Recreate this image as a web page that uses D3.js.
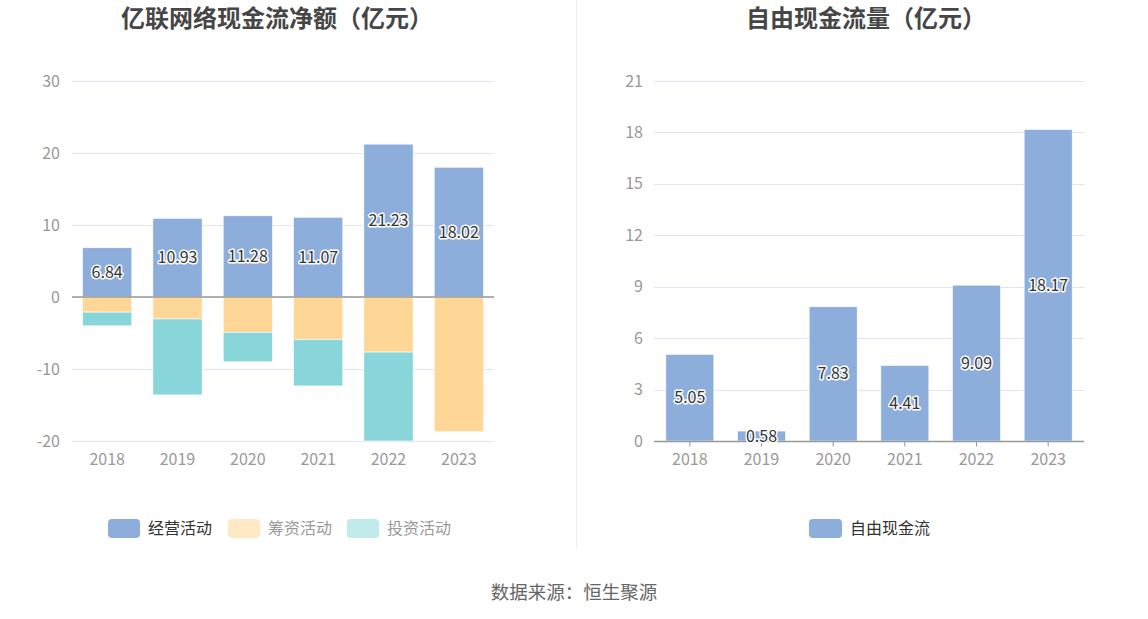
<!DOCTYPE html>
<html><head><meta charset="utf-8">
<script src="https://cdn.jsdelivr.net/npm/d3@7/dist/d3.min.js"></script>
<style>
html,body{margin:0;padding:0;background:#fff;}
svg{display:block;font-family:"Noto Sans CJK SC","Noto Sans",sans-serif;}
</style></head><body>
<svg id="c" width="1148" height="619"></svg>
<script>
const years = ["2018","2019","2020","2021","2022","2023"];
const operating = [6.84, 10.93, 11.28, 11.07, 21.23, 18.02];
const financing = [-2.1, -3.05, -4.9, -5.9, -7.65, -18.7];
const investing = [-1.9, -10.55, -4.1, -6.45, -12.35, 0];
const freeCash = [5.05, 0.58, 7.83, 4.41, 9.09, 18.17];
const leftTicks = [-20, -10, 0, 10, 20, 30];
const rightTicks = [0, 3, 6, 9, 12, 15, 18, 21];
const leftSeries = ["经营活动", "筹资活动", "投资活动"];
const rightSeries = ["自由现金流"];

const C = {blue:"#8DAEDB", orange:"#FED797", teal:"#88D6D9"};
const svg = d3.select("#c");

// titles
svg.append("text").attr("x",277).attr("y",27).attr("text-anchor","middle")
  .attr("font-size",24).attr("font-weight","bold").attr("fill","#464646").text("亿联网络现金流净额（亿元）");
svg.append("text").attr("x",866).attr("y",27).attr("text-anchor","middle")
  .attr("font-size",24).attr("font-weight","bold").attr("fill","#464646").text("自由现金流量（亿元）");
// divider
svg.append("line").attr("x1",576.5).attr("x2",576.5).attr("y1",0).attr("y2",549).attr("stroke","#EEEEEE");
// footer
svg.append("text").attr("x",574).attr("y",599).attr("text-anchor","middle")
  .attr("font-size",18.5).attr("fill","#666").text("数据来源：恒生聚源");

function gridAndY(g, y, ticks, x0, x1, labelX){
  ticks.forEach(t=>{
    g.append("line").attr("x1",x0).attr("x2",x1).attr("y1",Math.round(y(t))+0.5).attr("y2",Math.round(y(t))+0.5)
      .attr("stroke","#E0E6F1").attr("stroke-width",1);
    g.append("text").attr("x",labelX).attr("y",y(t)).attr("dy","0.35em").attr("text-anchor","end")
      .attr("font-size",16).attr("fill","#999").text(t);
  });
}
function label(g, x, y, txt){
  g.append("text").attr("x",x).attr("y",y).attr("dy","0.35em").attr("text-anchor","middle")
    .attr("font-size",16).attr("fill","#333").attr("stroke","#fff").attr("stroke-width",3)
    .attr("paint-order","stroke").attr("stroke-linejoin","round").text(txt);
}

// LEFT chart
{
  const g = svg.append("g");
  const x = d3.scaleBand().domain(years).range([72,494]).paddingInner(0.3).paddingOuter(0.15);
  const y = d3.scaleLinear().domain([-20,30]).range([441,81]);
  gridAndY(g, y, leftTicks, 72, 494, 60);
  years.forEach((yr,i)=>{
    const bx = x(yr), bw = x.bandwidth();
    g.append("rect").attr("x",bx).attr("width",bw).attr("y",y(operating[i])).attr("height",y(0)-y(operating[i]))
      .attr("fill",C.blue).attr("stroke","#fff").attr("stroke-width",0.6);
    let base = 0;
    g.append("rect").attr("x",bx).attr("width",bw).attr("y",y(base)).attr("height",y(base+financing[i])-y(base))
      .attr("fill",C.orange).attr("stroke","#fff").attr("stroke-width",0.6);
    base += financing[i];
    if (investing[i] !== 0) {
      g.append("rect").attr("x",bx).attr("width",bw).attr("y",y(base)).attr("height",y(base+investing[i])-y(base))
        .attr("fill",C.teal).attr("stroke","#fff").attr("stroke-width",0.6);
    }
  });
  g.append("line").attr("x1",72).attr("x2",494).attr("y1",y(0)).attr("y2",y(0)).attr("stroke","#999").attr("stroke-width",1.5);
  years.forEach((yr,i)=>{
    label(g, x(yr)+x.bandwidth()/2, y(operating[i]/2), operating[i].toFixed(2));
    g.append("text").attr("x",x(yr)+x.bandwidth()/2).attr("y",459).attr("dy","0.35em").attr("text-anchor","middle")
      .attr("font-size",16).attr("fill","#999").text(yr);
  });
  const leg = [{n:leftSeries[0],c:C.blue,t:"#333",x:108},{n:leftSeries[1],c:"#FFE8C4",t:"#999",x:228},{n:leftSeries[2],c:"#C1EBEB",t:"#999",x:347}];
  leg.forEach(l=>{
    g.append("rect").attr("x",l.x).attr("y",519).attr("width",32).attr("height",19).attr("rx",4).attr("fill",l.c);
    g.append("text").attr("x",l.x+40).attr("y",528.5).attr("dy","0.35em").attr("font-size",16).attr("fill",l.t).text(l.n);
  });
}

// RIGHT chart
{
  const g = svg.append("g");
  const x = d3.scaleBand().domain(years).range([654,1084]).paddingInner(0.33).paddingOuter(0.165);
  const y = d3.scaleLinear().domain([0,21]).range([441,81]);
  gridAndY(g, y, rightTicks, 654, 1084, 643);
  years.forEach((yr,i)=>{
    g.append("rect").attr("x",x(yr)).attr("width",x.bandwidth()).attr("y",y(freeCash[i])).attr("height",y(0)-y(freeCash[i]))
      .attr("fill",C.blue).attr("stroke","#fff").attr("stroke-width",0.6);
  });
  g.append("line").attr("x1",654).attr("x2",1084).attr("y1",y(0)+0.5).attr("y2",y(0)+0.5).attr("stroke","#999").attr("stroke-width",1.5);
  years.forEach((yr,i)=>{
    const cx = x(yr)+x.bandwidth()/2;
    g.append("line").attr("x1",cx).attr("x2",cx).attr("y1",y(0)+0.5).attr("y2",y(0)+5.5).attr("stroke","#999");
    label(g, cx, y(freeCash[i]/2), freeCash[i].toFixed(2));
    g.append("text").attr("x",cx).attr("y",459).attr("dy","0.35em").attr("text-anchor","middle")
      .attr("font-size",16).attr("fill","#999").text(yr);
  });
  g.append("rect").attr("x",809).attr("y",519).attr("width",33).attr("height",19).attr("rx",4).attr("fill",C.blue);
  g.append("text").attr("x",850).attr("y",528.5).attr("dy","0.35em").attr("font-size",16).attr("fill","#333").text(rightSeries[0]);
}
</script>
</body></html>
